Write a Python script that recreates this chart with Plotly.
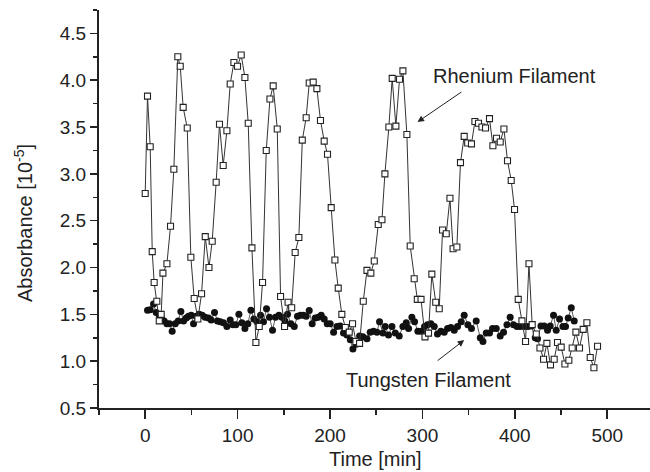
import plotly.graph_objects as go

# ---------------- data ----------------
rhenium_time = [0, 2.5, 5.4, 7.6, 9.7, 12.6, 15.2, 17.3, 19.2, 23.5, 27.4, 31, 35.3, 37.9, 41.1, 45.5,
                49.4, 53, 57, 61, 65, 69, 72.5, 76.8, 80.4, 84.4, 88.4, 92, 96, 99.9, 103.9, 107.9,
                111.5, 115.5, 119.8, 123.4, 127, 131, 135, 138.5, 142.9, 146.5, 150.8, 154.6, 158.5,
                162.3, 166.3, 170, 174.2, 177.5, 181.8, 185.8, 189.7, 193.7, 197.3, 201.3, 205.3,
                208.9, 212.8, 216.6, 220.8, 224.4, 228, 232, 236, 240, 244.2, 247.9, 252.2, 256.2,
                259.4, 263.7, 267.3, 271.3, 275.2, 278.9, 283.2, 286.8, 291.1, 294.5, 298.5, 302.8,
                306.6, 310.2, 314.4, 318.2, 321.8, 325.8, 329.8, 333.2, 337.3, 341.2, 345.2, 349,
                353.1, 356.8, 360.7, 364.4, 368.3, 372.6, 376.3, 380.2, 384.2, 388.2, 392.1, 396.1,
                399.7, 403.7, 407.7, 411.6, 415.3, 418.8, 423.2, 427.2, 431.1, 434.7, 438.6, 442.6,
                446.2, 450.2, 454.2, 458.5, 462.1, 466.1, 470, 474, 478, 481.6, 485.6, 489.5]
rhenium_abs = [2.79, 3.83, 3.29, 2.17, 1.84, 1.64, 1.43, 1.50, 1.94, 2.04, 2.44, 3.05, 4.25, 4.15, 3.71, 3.49,
               2.11, 1.67, 1.45, 1.72, 2.33, 2.00, 2.28, 2.91, 3.53, 3.09, 3.46, 3.96, 4.19, 4.15, 4.27, 4.03,
               3.54, 2.21, 1.20, 1.37, 1.84, 3.25, 3.80, 3.94, 3.48, 1.69, 1.37, 1.63, 1.57,
               2.16, 2.32, 3.36, 3.60, 3.97, 3.98, 3.91, 3.57, 3.35, 3.21, 2.64, 2.08,
               1.78, 1.50, 1.36, 1.31, 1.40, 1.21, 1.19, 1.64, 1.97, 1.94, 2.07, 2.46, 2.51,
               3.00, 3.50, 4.02, 3.51, 4.01, 4.10, 3.42, 2.23, 1.88, 1.66, 1.66, 1.26,
               1.30, 1.93, 1.63, 1.56, 2.40, 2.36, 2.74, 2.20, 2.22, 3.12, 3.40, 3.33,
               3.32, 3.56, 3.54, 3.50, 3.49, 3.59, 3.30, 3.38, 3.34, 3.48, 3.14, 2.93,
               2.62, 1.66, 1.43, 1.21, 2.04, 1.39, 1.29, 1.14, 1.02, 1.19, 0.96, 1.02,
               1.20, 1.15, 0.97, 1.01, 1.14, 1.31, 1.14, 1.34, 1.41, 1.04, 0.93, 1.16]

tungsten_time = [2.5, 5.4, 9, 11.9, 15.2, 17.3, 20.6, 23.5, 26.3, 29.2,
                 32.5, 35.7, 38.6, 41.5, 44.4, 46.9, 49.8, 52.3, 55.2, 58.4,
                 61.7, 64.9, 68.5, 71.4, 75, 78.2, 81.2, 84.7, 88.4, 92,
                 94.9, 98.1, 101.4, 104.6, 107.9, 111.1, 114.4, 117.6, 120.9, 124.8,
                 128, 131.3, 134.5, 137.8, 141, 144.7, 147.9, 151.2, 154, 157.7,
                 161.3, 164.8, 168.1, 171.3, 174.2, 177.5, 180.7, 184, 187.2, 190.5,
                 193.7, 197, 200.2, 203.9, 207.5, 211, 214.6, 218.3, 222, 224.8,
                 228.4, 232, 235.6, 240, 243.5, 247.1, 250.8, 253.6, 257.3, 259.7,
                 263.3, 267, 270.6, 274.9, 278.9, 282.5, 285, 288.6, 291.5, 295.1,
                 298.7, 302.3, 305.5, 309.2, 312.8, 316.3, 320, 323.6, 327.2, 330.8,
                 334.4, 338, 342, 345.2, 349.2, 353.1, 358.2, 362.6, 365.5, 369.1,
                 372.6, 375.9, 379.9, 384.2, 387.8, 391.5, 395, 398.6, 402.3, 405.8,
                 410.2, 414.2, 418.1, 422.1, 424.6, 428.3, 431.8, 435.4, 438.3, 441.9,
                 444.8, 448.4, 452.1, 454.9, 457.8, 461.1, 464.3]
tungsten_abs = [1.545, 1.55, 1.61, 1.52, 1.49, 1.47, 1.43, 1.40, 1.40, 1.32,
                1.40, 1.43, 1.53, 1.43, 1.46, 1.48, 1.49, 1.40, 1.48, 1.50,
                1.49, 1.47, 1.46, 1.44, 1.52, 1.43, 1.42, 1.41, 1.37, 1.44,
                1.39, 1.39, 1.50, 1.41, 1.35, 1.40, 1.545, 1.45, 1.42, 1.49,
                1.42, 1.56, 1.47, 1.33, 1.47, 1.49, 1.47, 1.43, 1.50, 1.40,
                1.37, 1.48, 1.49, 1.49, 1.48, 1.54, 1.40, 1.46, 1.47, 1.49,
                1.45, 1.40, 1.40, 1.31, 1.37, 1.375, 1.30, 1.28, 1.23, 1.13,
                1.18, 1.27, 1.26, 1.24, 1.31, 1.32, 1.31, 1.42, 1.30, 1.37,
                1.28, 1.37, 1.30, 1.27, 1.37, 1.41, 1.35, 1.47, 1.42, 1.32,
                1.32, 1.37, 1.39, 1.40, 1.37, 1.29, 1.32, 1.31, 1.35, 1.36,
                1.33, 1.37, 1.42, 1.49, 1.39, 1.35, 1.43, 1.25, 1.21, 1.30,
                1.30, 1.35, 1.35, 1.27, 1.31, 1.39, 1.47, 1.39, 1.37, 1.37,
                1.37, 1.37, 1.375, 1.25, 1.24, 1.375, 1.375, 1.33, 1.375, 1.49,
                1.33, 1.45, 1.37, 1.37, 1.46, 1.57, 1.43]

x_title = "Time [min]"
y_title = "Absorbance [10<sup>-5</sup>]"
label_rhenium = "Rhenium Filament"
label_tungsten = "Tungsten Filament"

# annotation anchor points (data coords)
rhenium_label_pos = (399.4, 4.05)
rhenium_arrow_tail = (343.8, 3.885)
rhenium_arrow_head = (294.7, 3.554)
tungsten_label_pos = (306.6, 0.80)
tungsten_arrow_tail = (314.9, 0.994)
tungsten_arrow_head = (345.2, 1.225)

X_RANGE = [-50, 546.3]
Y_RANGE = [0.5, 4.75]

FONT = "Liberation Sans, Arial, Helvetica, sans-serif"
INK = "#222222"

PLOT_L, PLOT_W = 99, 551
PLOT_T, PLOT_H = 10, 398

fig = go.Figure()

fig.add_trace(go.Scatter(
    x=tungsten_time, y=tungsten_abs, mode="lines+markers",
    line=dict(color="#333333", width=0.8),
    marker=dict(symbol="circle", size=7, color="#111111", line=dict(width=0)),
    showlegend=False, hoverinfo="skip"))

fig.add_trace(go.Scatter(
    x=rhenium_time, y=rhenium_abs, mode="lines+markers",
    line=dict(color="#333333", width=1),
    marker=dict(symbol="square", size=6, color="white", line=dict(color="#222222", width=1.1)),
    showlegend=False, hoverinfo="skip"))

fig.update_layout(
    width=650, height=472,
    margin=dict(l=PLOT_L, r=650 - PLOT_L - PLOT_W, t=PLOT_T, b=472 - PLOT_T - PLOT_H),
    paper_bgcolor="white", plot_bgcolor="white",
    font=dict(family=FONT, size=19, color=INK),
    xaxis=dict(
        range=X_RANGE, showgrid=False, zeroline=False,
        showline=True, linecolor=INK, linewidth=2,
        ticks="outside", ticklen=9, tickwidth=1.5, tickcolor=INK,
        tick0=0, dtick=100,
        minor=dict(ticks="outside", ticklen=5, tickwidth=1.5, tickcolor=INK, tick0=0, dtick=50),
        tickfont=dict(size=19),
    ),
    xaxis2=dict(
        range=X_RANGE, overlaying="x", side="top", anchor="y",
        showgrid=False, zeroline=False, showline=True, linecolor=INK, linewidth=2,
        ticks="inside", ticklen=4, tickwidth=1.5, tickcolor=INK,
        tick0=0, dtick=50, showticklabels=False,
    ),
    yaxis=dict(
        range=Y_RANGE, showgrid=False, zeroline=False,
        showline=True, linecolor=INK, linewidth=2,
        ticks="outside", ticklen=7, tickwidth=1.5, tickcolor=INK,
        tick0=0.5, dtick=0.5, tickformat=".1f",
        minor=dict(ticks="outside", ticklen=4, tickwidth=1.5, tickcolor=INK, tick0=0.5, dtick=0.25),
        tickfont=dict(size=19),
    ),
)

# axis titles as annotations for precise placement
fig.add_annotation(
    text=x_title, xref="paper", yref="paper",
    x=0.5 + (1.0 / PLOT_W), y=(PLOT_T + PLOT_H - 471) / PLOT_H,
    showarrow=False, xanchor="center", yanchor="bottom", borderpad=0,
    font=dict(size=20, color=INK))

fig.add_annotation(
    text=y_title, xref="paper", yref="paper",
    x=(23 - PLOT_L) / PLOT_W, y=(PLOT_T + PLOT_H - 223) / PLOT_H,
    textangle=-90, showarrow=False, xanchor="center", yanchor="middle",
    font=dict(size=20, color=INK))

fig.add_annotation(text=label_rhenium, x=rhenium_label_pos[0], y=rhenium_label_pos[1],
                   xref="x", yref="y", showarrow=False, font=dict(size=20, color=INK))
fig.add_annotation(text=label_tungsten, x=tungsten_label_pos[0], y=tungsten_label_pos[1],
                   xref="x", yref="y", showarrow=False, font=dict(size=20, color=INK))

for head, tail in [(rhenium_arrow_head, rhenium_arrow_tail), (tungsten_arrow_head, tungsten_arrow_tail)]:
    fig.add_annotation(text="", x=head[0], y=head[1], ax=tail[0], ay=tail[1],
                       xref="x", yref="y", axref="x", ayref="y",
                       showarrow=True, arrowhead=2, arrowsize=1.3, arrowwidth=1, arrowcolor=INK)

fig.write_html(
    "out.html",
    config={"displayModeBar": False, "staticPlot": True},
    post_script="document.body.style.margin='0';document.body.style.padding='0';"
                "document.body.style.overflow='hidden';",
)
